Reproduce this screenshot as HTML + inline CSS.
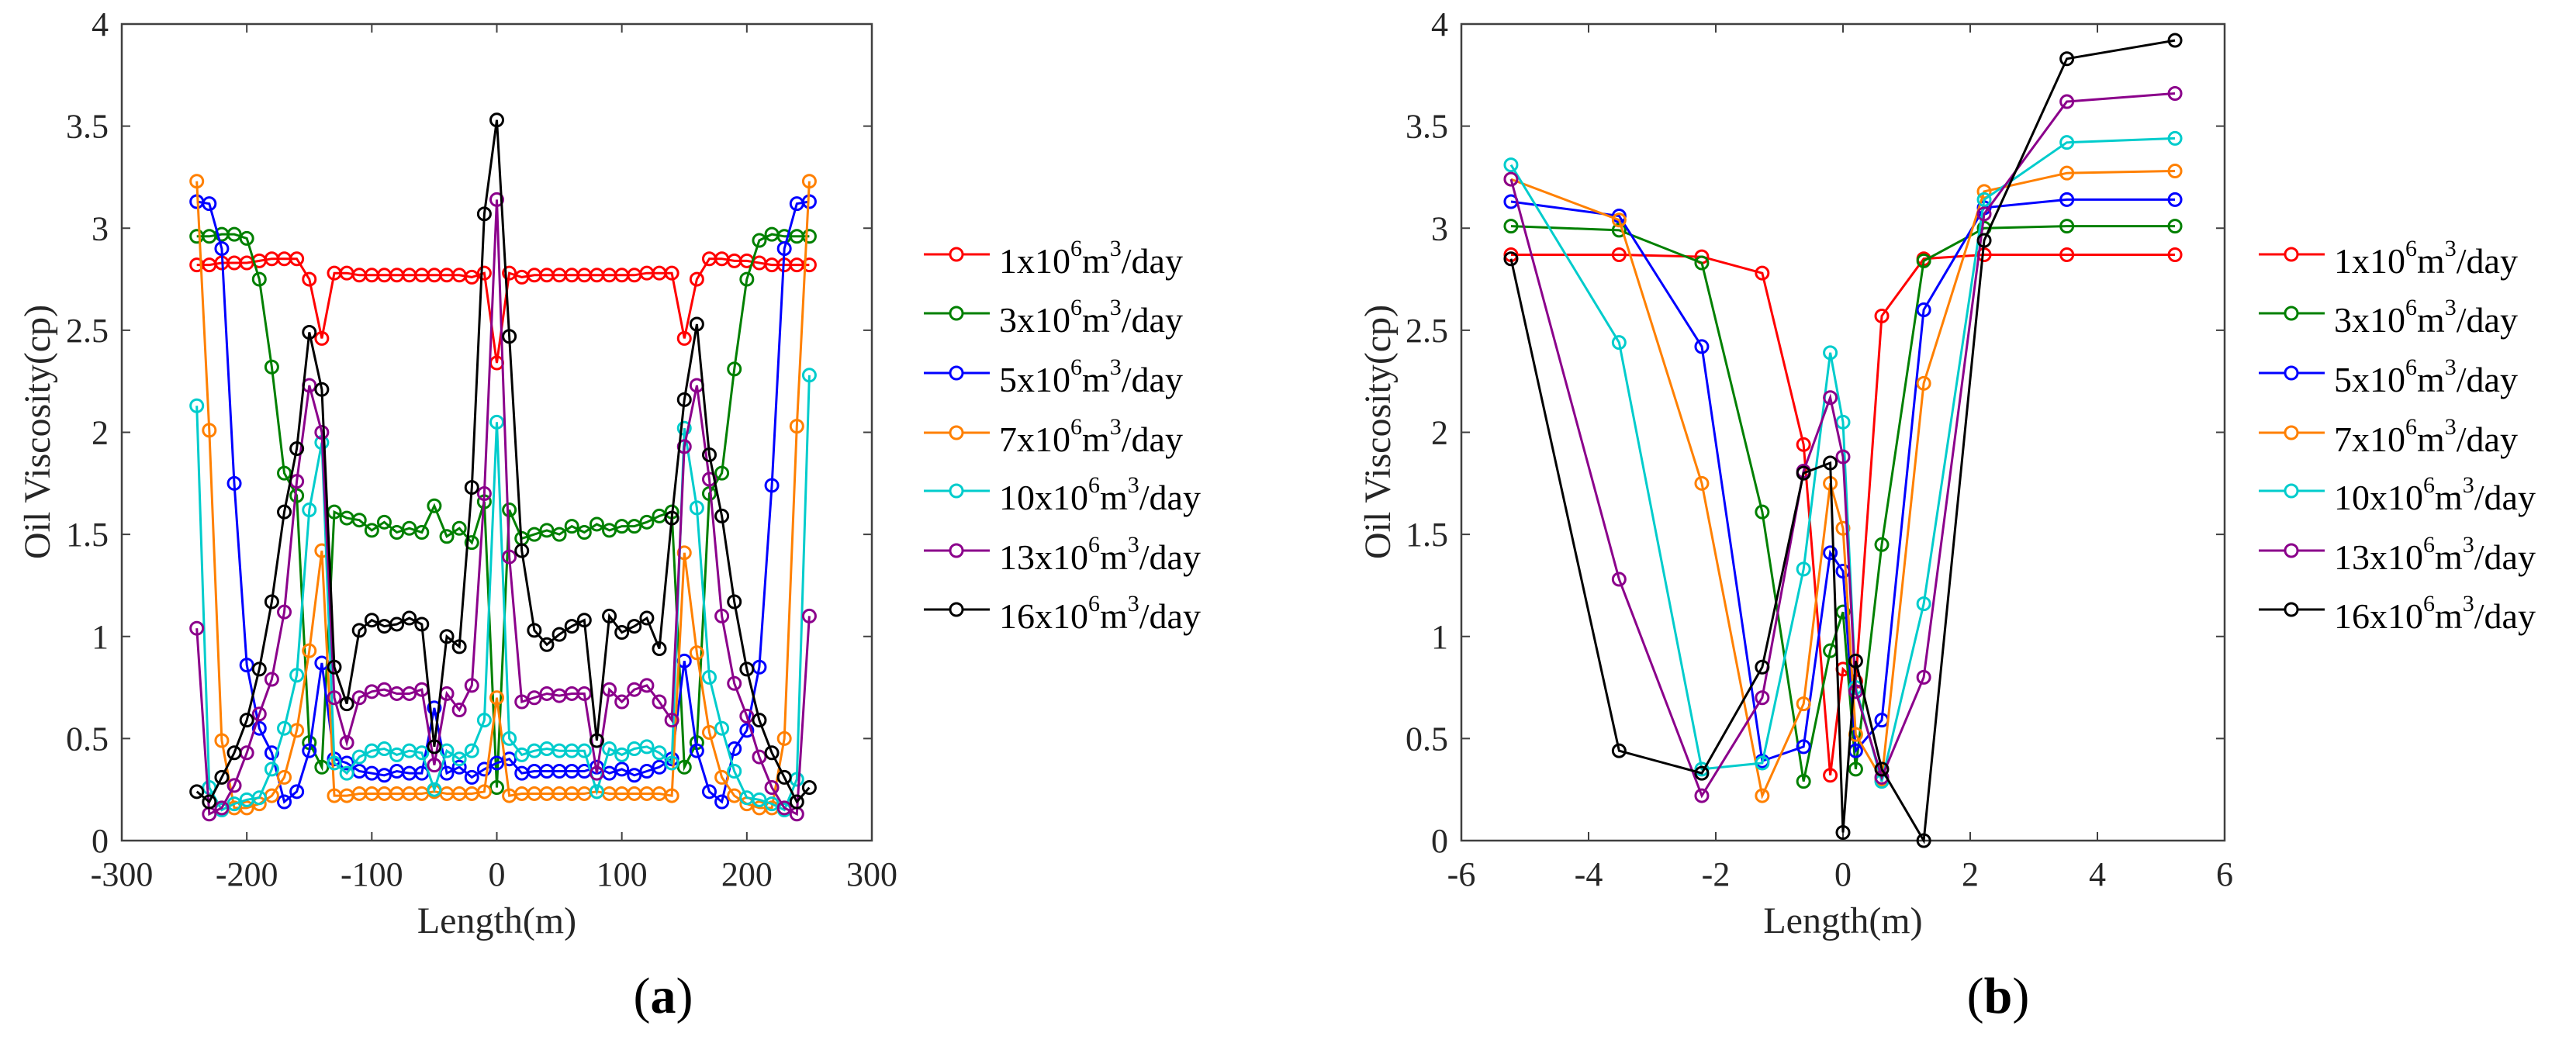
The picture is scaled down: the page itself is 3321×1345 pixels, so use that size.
<!DOCTYPE html>
<html><head><meta charset="utf-8"><style>
html,body{margin:0;padding:0;background:#fff;}
svg{display:block;}
text{font-family:"Liberation Serif","DejaVu Serif",serif;}
</style></head><body>
<svg id="fig" width="3321" height="1345" viewBox="0 0 3321 1345" xmlns="http://www.w3.org/2000/svg"></svg>
<script>
const seriesNames = ["1","3","5","7","10","13","16"];
const seriesColors = ["#ff0000","#008000","#0000ff","#ff8000","#00cccc","#8b008b","#000000"];
const xTicksA = [-300,-200,-100,0,100,200,300];
const xTicksB = [-6,-4,-2,0,2,4,6];
const yTicks = [0,0.5,1,1.5,2,2.5,3,3.5,4];
const yTickLabels = ["0","0.5","1","1.5","2","2.5","3","3.5","4"];

const xA = [-240,-230,-220,-210,-200,-190,-180,-170,-160,-150,-140,-130,-120,-110,-100,-90,-80,-70,-60,-50,-40,-30,-20,-10,0,10,20,30,40,50,60,70,80,90,100,110,120,130,140,150,160,170,180,190,200,210,220,230,240,250];
const a1 = [2.82,2.82,2.83,2.83,2.83,2.84,2.85,2.85,2.85,2.75,2.46,2.78,2.78,2.77,2.77,2.77,2.77,2.77,2.77,2.77,2.77,2.77,2.76,2.78,2.34,2.78,2.76,2.77,2.77,2.77,2.77,2.77,2.77,2.77,2.77,2.77,2.78,2.78,2.78,2.46,2.75,2.85,2.85,2.84,2.84,2.83,2.82,2.82,2.82,2.82];
const a3 = [2.96,2.96,2.97,2.97,2.95,2.75,2.32,1.80,1.69,0.48,0.36,1.61,1.58,1.57,1.52,1.56,1.51,1.53,1.51,1.64,1.49,1.53,1.46,1.66,0.26,1.62,1.48,1.50,1.52,1.50,1.54,1.51,1.55,1.52,1.54,1.54,1.56,1.59,1.61,0.36,0.48,1.70,1.80,2.31,2.75,2.94,2.97,2.96,2.96,2.96];
const a5 = [3.13,3.12,2.90,1.75,0.86,0.55,0.43,0.19,0.24,0.44,0.87,0.40,0.38,0.34,0.33,0.32,0.34,0.33,0.33,0.65,0.33,0.36,0.31,0.35,0.38,0.40,0.33,0.34,0.34,0.34,0.34,0.34,0.36,0.33,0.35,0.32,0.34,0.36,0.40,0.88,0.44,0.24,0.19,0.45,0.54,0.85,1.74,2.90,3.12,3.13];
const a7 = [3.23,2.01,0.49,0.16,0.16,0.18,0.22,0.31,0.54,0.93,1.42,0.22,0.22,0.23,0.23,0.23,0.23,0.23,0.23,0.24,0.23,0.23,0.23,0.24,0.70,0.22,0.23,0.23,0.23,0.23,0.23,0.23,0.24,0.23,0.23,0.23,0.23,0.23,0.22,1.41,0.92,0.53,0.31,0.22,0.18,0.16,0.16,0.50,2.03,3.23];
const a10 = [2.13,0.26,0.15,0.18,0.20,0.21,0.35,0.55,0.81,1.62,1.95,0.38,0.33,0.41,0.44,0.45,0.42,0.44,0.43,0.25,0.44,0.40,0.44,0.59,2.05,0.50,0.42,0.44,0.45,0.44,0.44,0.44,0.24,0.45,0.42,0.45,0.46,0.43,0.38,2.02,1.63,0.80,0.55,0.34,0.21,0.20,0.18,0.15,0.30,2.28];
const a13 = [1.04,0.13,0.16,0.27,0.43,0.62,0.79,1.12,1.76,2.23,2.00,0.70,0.48,0.70,0.73,0.74,0.72,0.72,0.74,0.37,0.72,0.64,0.76,1.70,3.14,1.39,0.68,0.70,0.72,0.71,0.72,0.72,0.33,0.74,0.68,0.74,0.76,0.68,0.59,1.93,2.23,1.77,1.10,0.77,0.61,0.41,0.26,0.16,0.13,1.10];
const a16 = [0.24,0.19,0.31,0.43,0.59,0.84,1.17,1.61,1.92,2.49,2.21,0.85,0.67,1.03,1.08,1.05,1.06,1.09,1.06,0.46,1.00,0.95,1.73,3.07,3.53,2.47,1.42,1.03,0.96,1.01,1.05,1.08,0.49,1.10,1.02,1.05,1.09,0.94,1.58,2.16,2.53,1.89,1.59,1.17,0.84,0.59,0.43,0.31,0.19,0.26];

const xB = [-5.22,-3.52,-2.22,-1.27,-0.62,-0.2,0,0.2,0.61,1.27,2.22,3.52,5.22];
const b1 = [2.87,2.87,2.86,2.78,1.94,0.32,0.84,0.78,2.57,2.85,2.87,2.87,2.87];
const b3 = [3.01,2.99,2.83,1.61,0.29,0.93,1.12,0.35,1.45,2.84,3.00,3.01,3.01];
const b5 = [3.13,3.06,2.42,0.39,0.46,1.41,1.32,0.44,0.59,2.60,3.10,3.14,3.14];
const b7 = [3.24,3.04,1.75,0.22,0.67,1.75,1.53,0.52,0.30,2.24,3.18,3.27,3.28];
const b10 = [3.31,2.44,0.35,0.38,1.33,2.39,2.05,0.75,0.29,1.16,3.14,3.42,3.44];
const b13 = [3.24,1.28,0.22,0.70,1.81,2.17,1.88,0.73,0.31,0.80,3.07,3.62,3.66];
const b16 = [2.85,0.44,0.33,0.85,1.80,1.85,0.04,0.88,0.35,0.00,2.94,3.83,3.92];

const NS = "http://www.w3.org/2000/svg";
const FONT = '"Liberation Serif", "DejaVu Serif", serif';
const svg = document.getElementById('fig');
function mk(tag, attrs, parent){const e=document.createElementNS(NS,tag);for(const k in attrs)e.setAttribute(k,attrs[k]);if(tag==='text')e.setAttribute('font-family',FONT);(parent||svg).appendChild(e);return e;}

function drawPanel(cfg){
  const g = mk('g',{});
  
  
  const L=cfg.left,R=cfg.right,T=31,B=1084;
  const sx=v=>L+(v-cfg.xmin)/(cfg.xmax-cfg.xmin)*(R-L);
  const sy=v=>B-(v/4)*(B-T);
  const box = mk('rect',{x:L,y:T,width:R-L,height:B-T,fill:'none',stroke:'#404040','stroke-width':2.5},g);
  
  
  cfg.xticks.forEach(v=>{
    const x=sx(v);
    mk('line',{x1:x,y1:B,x2:x,y2:B-11,stroke:'#404040','stroke-width':2},g);
    mk('line',{x1:x,y1:T,x2:x,y2:T+11,stroke:'#404040','stroke-width':2},g);
    const t=mk('text',{x:x,y:1142,'text-anchor':'middle','font-size':44,fill:'#262626'},g);
    t.textContent=String(v);
    
    
  });
  yTicks.forEach((v,i)=>{
    const y=sy(v);
    mk('line',{x1:L,y1:y,x2:L+11,y2:y,stroke:'#404040','stroke-width':2},g);
    mk('line',{x1:R,y1:y,x2:R-11,y2:y,stroke:'#404040','stroke-width':2},g);
    const t=mk('text',{x:L-17,y:y+15,'text-anchor':'end','font-size':44,fill:'#262626'},g);
    t.textContent=yTickLabels[i];
    
    
  });
  cfg.series.forEach((vals,si)=>{
    const col=seriesColors[si];
    const pts=cfg.xs.map((x,i)=>sx(x).toFixed(1)+','+sy(vals[i]).toFixed(1)).join(' ');
    const pl=mk('polyline',{points:pts,fill:'none',stroke:col,'stroke-width':3},g);
    
    
    cfg.xs.forEach((x,i)=>{
      const c=mk('circle',{cx:sx(x),cy:sy(vals[i]),r:8,fill:'none',stroke:col,'stroke-width':3},g);
      
      
    });
  });
  const xl=mk('text',{x:(L+R)/2,y:1203,'text-anchor':'middle','font-size':48,fill:'#262626'},g);
  xl.textContent='Length(m)';
  
  
  const yl=mk('text',{x:0,y:0,'text-anchor':'middle','font-size':48,fill:'#262626',transform:'translate('+(cfg.ylabX+16)+',557) rotate(-90)'},g);
  yl.textContent='Oil Viscosity(cp)';
  
  
  const pa=mk('text',{x:cfg.capX,y:1306,'text-anchor':'middle','font-size':66,fill:'#000'},g);
  pa.innerHTML='(<tspan font-weight="bold">'+cfg.cap+'</tspan>)';
  
  
  const rows=[328,404,481,558,633,710,786];
  seriesNames.forEach((n,si)=>{
    const lg=mk('g',{},g);
    
    
    const y=rows[si], col=seriesColors[si];
    mk('line',{x1:cfg.legX,y1:y,x2:cfg.legX+85,y2:y,stroke:col,'stroke-width':3},lg);
    mk('circle',{cx:cfg.legX+42,cy:y,r:8,fill:'#fff',stroke:col,'stroke-width':3},lg);
    const t=mk('text',{x:cfg.legX+97,y:y+24,'font-size':46,fill:'#000'},lg);
    t.innerHTML=n+'x10<tspan font-size="30" dy="-22">6</tspan><tspan dy="22">m</tspan><tspan font-size="30" dy="-22">3</tspan><tspan dy="22">/day</tspan>';
  });
}
drawPanel({name:'chart-a',left:157,right:1124,xmin:-300,xmax:300,xticks:xTicksA,xs:xA,series:[a1,a3,a5,a7,a10,a13,a16],ylabX:48,capX:855,cap:'a',legX:1191});
drawPanel({name:'chart-b',left:1884,right:2868,xmin:-6,xmax:6,xticks:xTicksB,xs:xB,series:[b1,b3,b5,b7,b10,b13,b16],ylabX:1776,capX:2576,cap:'b',legX:2912});
</script>
</body></html>
